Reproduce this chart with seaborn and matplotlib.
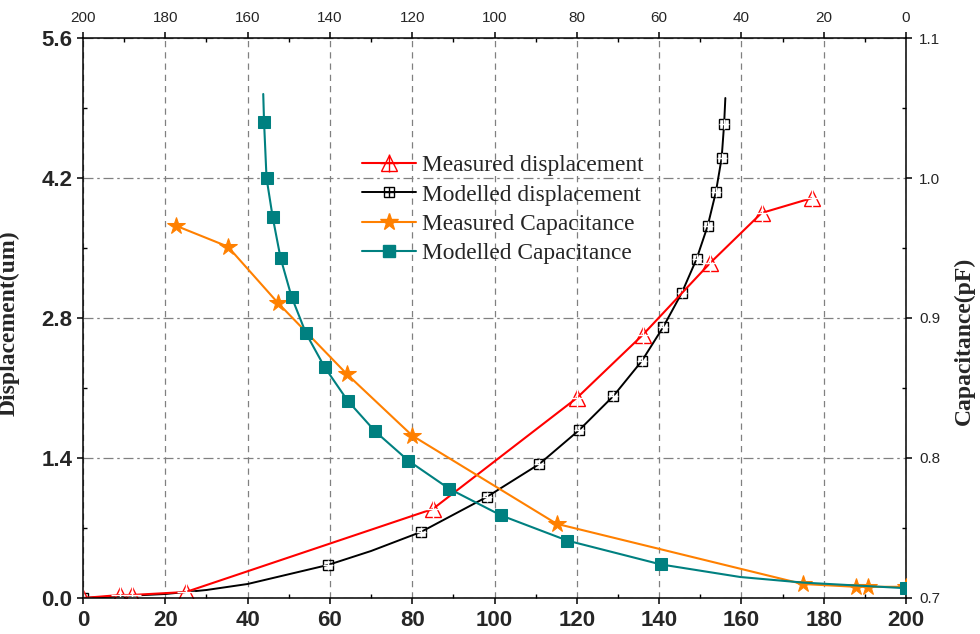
import numpy as np
import matplotlib
matplotlib.use("Agg")
import matplotlib.pyplot as plt
import matplotlib.ticker as mticker
from matplotlib.lines import Line2D
import seaborn as sns

# measured displacement (bottom x, left y)
meas_disp_x = [0, 9.0, 11.8, 25.0, 85.0, 120.0, 136.0, 152.4, 164.9, 177.2]
meas_disp_y = [0, 0.03, 0.03, 0.06, 0.89, 2.00, 2.63, 3.35, 3.85, 4.00]

# modelled displacement: markers and the curve through them
mod_disp_x = [0, 59.5, 82.1, 98.1, 110.9, 120.6, 128.9, 135.8, 141.0, 145.5,
              149.1, 151.8, 153.8, 155.2, 155.8]
mod_disp_y = [0, 0.33, 0.66, 1.01, 1.34, 1.68, 2.02, 2.37, 2.71, 3.05,
              3.39, 3.72, 4.06, 4.40, 4.74]
mod_disp_curve_x = [0, 20, 30, 40, 59.5, 70, 82.1, 98.1, 110.9, 120.6, 128.9,
                    135.8, 141.0, 145.5, 149.1, 151.8, 153.8, 155.2, 155.8, 156.1]
mod_disp_curve_y = [0, 0.04, 0.08, 0.14, 0.33, 0.47, 0.66, 1.01, 1.34, 1.68, 2.02,
                    2.37, 2.71, 3.05, 3.39, 3.72, 4.06, 4.40, 4.74, 5.00]

# measured capacitance (top x, right y)
meas_cap_x = [177.5, 164.8, 152.7, 135.9, 120.0, 84.9, 25.1, 12.2, 9.2, 0.0]
meas_cap_y = [0.966, 0.951, 0.911, 0.860, 0.816, 0.753, 0.710, 0.708, 0.708, 0.708]

# modelled capacitance
mod_cap_x = [156.0, 155.4, 153.9, 152.0, 149.3, 145.8, 141.3, 135.7, 129.0,
             120.9, 111.0, 98.4, 82.3, 59.6, 0.0]
mod_cap_y = [1.040, 1.000, 0.972, 0.943, 0.915, 0.889, 0.865, 0.841, 0.819,
             0.798, 0.778, 0.759, 0.741, 0.724, 0.707]
mod_cap_curve_x = [156.2, 156.0, 155.4, 153.9, 152.0, 149.3, 145.8, 141.3, 135.7,
                   129.0, 120.9, 111.0, 98.4, 82.3, 59.6, 40.3, 25.0, 0.0]
mod_cap_curve_y = [1.060, 1.040, 1.000, 0.972, 0.943, 0.915, 0.889, 0.865, 0.841,
                   0.819, 0.798, 0.778, 0.759, 0.741, 0.724, 0.715, 0.711, 0.707]

labels = ["Measured displacement", "Modelled displacement",
          "Measured Capacitance", "Modelled Capacitance"]

RED = "#ff0000"
ORANGE = "#ff8000"
TEAL = "#008080"

sns.set_style("ticks")
plt.rcParams["font.family"] = ["Liberation Sans", "DejaVu Sans"]
plt.rcParams["axes.linewidth"] = 1.1

fig = plt.figure(figsize=(9.8, 6.34), dpi=100)
pos = [83 / 980, 36 / 634, 823 / 980, 560 / 634]
ax = fig.add_axes(pos)
ax2 = fig.add_axes(pos, frameon=False)

# displacement on bottom/left
sns.lineplot(x=mod_disp_curve_x, y=mod_disp_curve_y, ax=ax, color="black",
             lw=1.4, sort=False, estimator=None)
sns.lineplot(x=mod_disp_x, y=mod_disp_y, ax=ax, color="black", linestyle="none",
             marker="s", markersize=7.5, mfc="none", mec="black", mew=1.0,
             sort=False, estimator=None)
sns.lineplot(x=mod_disp_x, y=mod_disp_y, ax=ax, color="black", linestyle="none",
             marker="+", markersize=7.5, mew=1.0, sort=False, estimator=None)
sns.lineplot(x=meas_disp_x, y=meas_disp_y, ax=ax, color=RED, lw=1.5,
             marker="^", markersize=11, mfc="none", mec=RED, mew=1.0,
             sort=False, estimator=None)
sns.lineplot(x=meas_disp_x, y=meas_disp_y, ax=ax, color=RED, linestyle="none",
             marker="+", markersize=13, mew=1.0, sort=False, estimator=None)

# capacitance on top/right
sns.lineplot(x=meas_cap_x, y=meas_cap_y, ax=ax2, color=ORANGE, lw=1.5,
             marker="*", markersize=13, mec=ORANGE, mfc=ORANGE,
             sort=False, estimator=None)
sns.lineplot(x=mod_cap_curve_x, y=mod_cap_curve_y, ax=ax2, color=TEAL, lw=1.5,
             sort=False, estimator=None)
sns.lineplot(x=mod_cap_x, y=mod_cap_y, ax=ax2, color=TEAL, linestyle="none",
             marker="s", markersize=8, mfc=TEAL, mec=TEAL,
             sort=False, estimator=None)

ax.set_xlim(0, 200)
ax.set_ylim(0, 5.6)
ax2.set_xlim(200, 0)
ax2.set_ylim(0.7, 1.1)

ax.xaxis.set_major_locator(mticker.MultipleLocator(20))
ax.xaxis.set_minor_locator(mticker.MultipleLocator(10))
ax.yaxis.set_major_locator(mticker.MultipleLocator(1.4))
ax.yaxis.set_minor_locator(mticker.MultipleLocator(0.7))
ax.yaxis.set_major_formatter(mticker.FormatStrFormatter("%.1f"))
ax2.xaxis.set_major_locator(mticker.MultipleLocator(20))
ax2.xaxis.set_minor_locator(mticker.MultipleLocator(10))
ax2.yaxis.set_major_locator(mticker.MultipleLocator(0.1))
ax2.yaxis.set_minor_locator(mticker.MultipleLocator(0.05))
ax2.yaxis.set_major_formatter(mticker.FormatStrFormatter("%.1f"))

ax2.xaxis.tick_top()
ax2.yaxis.tick_right()
ax2.xaxis.set_label_position("top")
ax2.yaxis.set_label_position("right")

for a in (ax, ax2):
    a.tick_params(which="major", direction="out", length=4.5, width=1.1, color="black")
    a.tick_params(which="minor", direction="in", length=3, width=1.0, color="black")
ax.tick_params(axis="x", which="major", pad=4)
ax.tick_params(axis="y", which="major", pad=3)
ax2.tick_params(which="major", pad=5, labelsize=11)

for t in ax.get_xticklabels() + ax.get_yticklabels():
    t.set_fontweight("bold")
    t.set_fontsize(16)

for s in ax.spines.values():
    s.set_visible(True)
    s.set_color("black")
    s.set_linewidth(1.1)

ax.grid(axis="x", which="major", color="#808080", lw=0.9, linestyle=(0, (5, 4)))
ax.grid(axis="y", which="major", color="#808080", lw=0.9, linestyle=(0, (8, 3, 2, 3)))

ax.set_xlabel("")
ax.set_ylabel("Displacement(um)", family=["Liberation Serif"], fontweight="bold",
              fontsize=17)
ax.yaxis.set_label_coords(-0.0766, 0.49)
ax2.set_xlabel("")
ax2.set_ylabel("Capacitance(pF)", family=["Liberation Serif"], fontweight="bold",
               fontsize=17, rotation=90)
ax2.yaxis.set_label_coords(1.058, 0.46)

handles = [
    (Line2D([], [], color=RED, lw=1.5, marker="^", ms=11, mfc="none", mec=RED),
     Line2D([], [], color=RED, lw=0, marker="+", ms=13, mew=1.0)),
    (Line2D([], [], color="black", lw=1.4, marker="s", ms=7.5, mfc="none", mec="black"),
     Line2D([], [], color="black", lw=0, marker="+", ms=7.5, mew=1.0)),
    Line2D([], [], color=ORANGE, lw=1.5, marker="*", ms=13, mfc=ORANGE, mec=ORANGE),
    Line2D([], [], color=TEAL, lw=1.5, marker="s", ms=8, mfc=TEAL, mec=TEAL),
]
leg = ax2.legend(handles, labels, loc="upper left",
                 bbox_to_anchor=(362 / 980, (634 - 155) / 634),
                 bbox_transform=fig.transFigure, frameon=False,
                 prop={"family": "Liberation Serif", "size": 16.8},
                 handlelength=2.3, handletextpad=0.25, labelspacing=0.34,
                 borderpad=0, borderaxespad=0)

fig.savefig("out.png", dpi=100)
